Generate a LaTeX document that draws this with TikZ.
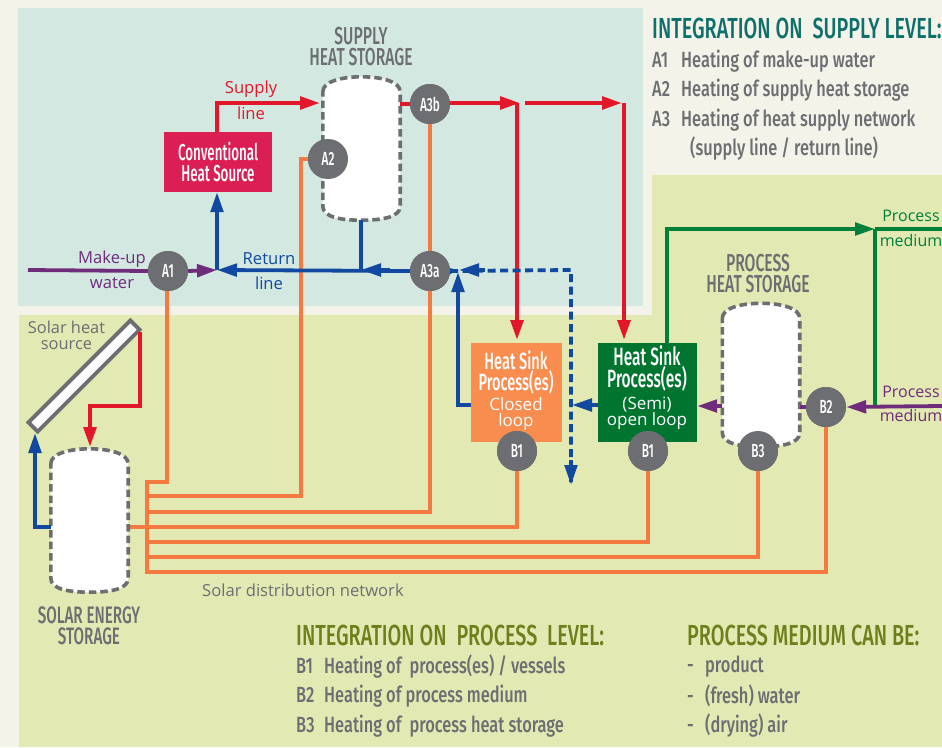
\documentclass[tikz,border=0pt]{standalone}
\usepackage{fontspec}
\usetikzlibrary{arrows.meta,calc}
\setmainfont{Open Sans}
\newfontfamily\condm[FakeStretch=0.62]{Fira Sans Medium}
\newfontfamily\condc[FakeStretch=0.58]{Fira Sans Medium}
\newfontfamily\condt[FakeStretch=0.64]{Fira Sans Medium}
\newfontfamily\condi[FakeStretch=0.745]{Fira Sans Medium}
\newfontfamily\condh[FakeStretch=0.683]{Fira Sans Medium}
\definecolor{pagebg}{HTML}{F3F3EA}
\definecolor{tealbg}{HTML}{D2E8E1}
\definecolor{greenbg}{HTML}{E2E9B3}
\definecolor{cgray}{HTML}{6D6E71}
\definecolor{cred}{HTML}{E3172A}
\definecolor{cblue}{HTML}{1249A0}
\definecolor{corange}{HTML}{F47A42}
\definecolor{cpurple}{HTML}{6F2C7B}
\definecolor{cgreen}{HTML}{00803A}
\definecolor{boxred}{HTML}{DB1F54}
\definecolor{boxorange}{HTML}{F98D4F}
\definecolor{boxgreen}{HTML}{00752F}
\definecolor{cteal}{HTML}{0F6F6A}
\definecolor{colive}{HTML}{6F7F1C}
\tikzset{
  tap/.style={circle,fill=cgray,minimum size=40pt,inner sep=0pt,text=white,font=\condm\fontsize{19}{19}\selectfont},
  redline/.style={draw=cred,line width=4.2pt},
  blueline/.style={draw=cblue,line width=3.8pt},
  orangeline/.style={draw=corange,line width=3.4pt},
  purpleline/.style={draw=cpurple,line width=3.8pt},
  greenline/.style={draw=cgreen,line width=3.8pt},
  tip/.style={-{Triangle[length=20pt,width=12.5pt]}},
  sink/.style={inner sep=0pt,align=center,text=white},
  title/.style={text=cgray,align=center,font=\condt\fontsize{24.5}{21}\selectfont},
  lab/.style={font=\fontsize{16.6}{17}\selectfont,align=center,inner sep=0pt},
  item/.style={anchor=west,inner sep=0pt,text=cgray,font=\condi\fontsize{22}{23}\selectfont},
  head/.style={anchor=west,inner sep=0pt,font=\condh\fontsize{29}{30}\selectfont},
  tankbody/.style={minimum width=77pt,minimum height=143pt,inner sep=0pt},
  tankline/.style={fill=white,draw=cgray,line width=3.6pt,dash pattern=on 7.5pt off 4pt},
}
\newcommand{\tankpath}[1]{%
  \path[tankline] ($(#1.north west)+(0,15)$)
    .. controls ($(#1.north west)+(0,5)$) and ($(#1.north west)+(18,0)$) .. (#1.north)
    .. controls ($(#1.north east)+(-18,0)$) and ($(#1.north east)+(0,5)$) .. ($(#1.north east)+(0,15)$)
    -- ($(#1.south east)+(0,-14)$)
    .. controls ($(#1.south east)+(0,-3)$) and ($(#1.south east)+(-18,0)$) .. (#1.south)
    .. controls ($(#1.south west)+(18,0)$) and ($(#1.south west)+(0,-3)$) .. ($(#1.south west)+(0,-14)$)
    -- cycle;}
\newcommand{\keyA}[1]{\makebox[29pt][l]{#1}}
\newcommand{\keyB}[1]{\makebox[28pt][l]{#1}}
\newcommand{\keyC}{\makebox[18pt][l]{-}}
\begin{document}
\begin{tikzpicture}[x=1pt,y=-1pt]
\useasboundingbox (0,0) rectangle (942,747);
\fill[pagebg] (0,0) rectangle (942,747);
\fill[tealbg] (18,8) rectangle (643,306);
\fill[greenbg] (19,315) -- (652,315) -- (652,175) -- (942,175) -- (942,747) -- (19,747) -- cycle;

% named anchors
\node[tankbody] (supplytank) at (361.5,148.5) {};
\node[tankbody] (processtank) at (761,375) {};
\node[tankbody] (solartank) at (89.5,520.5) {};
\node[fill=boxred,minimum width=108pt,minimum height=60pt,sink,font=\condc\fontsize{23}{21}\selectfont] (conv) at (218,162) {Conventional\\Heat Source};
\node[fill=boxorange,minimum width=91pt,minimum height=99pt] (sinkclosed) at (516.5,392.5) {};
\node[fill=boxgreen,minimum width=99pt,minimum height=99pt] (sinkopen) at (647.5,392.5) {};
\node[tap] (A1) at (168,271) {};
\node[tap] (A2) at (328,159) {};
\node[tap] (A3b) at (430,104) {};
\node[tap] (A3a) at (430,271) {};
\node[tap] (B1a) at (517,451) {};
\node[tap] (B1b) at (648,451) {};
\node[tap] (B3) at (758,451) {};
\node[tap] (B2) at (826,407) {};

% free ends and junctions
\coordinate (mkstart) at (28,270);
\coordinate (jmain) at (217,270);
\coordinate (jtank) at (361,270);
\coordinate (supL) at (217,103);
\coordinate (rA) at (520,103);
\coordinate (rAd) at (517,103);
\coordinate (rB) at (525,103);
\coordinate (rC) at (622,103);
\coordinate (rCd) at (624,103);
\coordinate (dashA) at (459,270);
\coordinate (dashC) at (571,270);
\coordinate (dashE) at (571,485);
\coordinate (cloop) at (458,405);
\coordinate (jgreen) at (875,229);
\coordinate (gC) at (667,229);
\coordinate (gR) at (942,229);
\coordinate (pR) at (942,406);
\coordinate (coll) at (140,332);
\coordinate (coll2) at (35,433);

% orange network
\draw[orangeline] (167,291) |- (147,482) -- (147,572) -| (B2.south);
\draw[orangeline] (147,496) -| (301,159) -- (A2.center);
\draw[orangeline] (147,512) -| (A3a.south);
\draw[orangeline] (solartank.east |- 0,527) -| (B1a.south);
\draw[orangeline] (147,542) -| (B1b.south);
\draw[orangeline] (147,557) -| (B3.south);
\draw[orangeline] (A3b.south) -- (A3a.north);

% tanks
\tankpath{supplytank}
\tankpath{processtank}
\tankpath{solartank}

% collector
\node[draw=cgray,fill=white,line width=3.8pt,minimum width=144pt,minimum height=13pt,inner sep=0pt,rotate=45] (collector) at (84,376) {};

% red
\draw[redline,tip] (conv.north -| supL) -- (supL) -- (320,103);
\draw[redline] (supplytank.east |- A3b) -- (A3b.west);
\draw[redline,tip] (A3b.east |- rA) -- (rA);
\draw[redline,tip] (rAd) -- (517,340);
\draw[redline,tip] (rB) -- (rC);
\draw[redline,tip] (rCd) -- (624,340);
\draw[redline,tip] (coll) |- (90,406) -- (90,447);

% blue
\draw[blueline,tip] (A3a.west) -- (jmain);
\draw[blueline] (supplytank.south -| jtank) -- (jtank);
\draw[blueline,tip] (390,270) -- (jtank);
\draw[blueline,tip] (jmain) -- (conv.south -| jmain);
\draw[blueline,tip] (sinkclosed.west |- cloop) -- (cloop) -- (458,272);
\draw[blueline,dash pattern=on 8pt off 4.5pt] (A3a.east) -- (dashC) -- (dashE);
\draw[blueline,tip] (A3a.east) -- (dashA);
\draw[blueline,tip] (485,270) -- (dashA);
\draw[blueline,tip] (571,460) -- (dashE);
\draw[blueline,tip] (sinkopen.west |- 0,405) -- (572,405);
\draw[blueline,tip] (solartank.west |- 0,527) -| (coll2);

% purple
\draw[purpleline] (mkstart) -- (A1.west);
\draw[purpleline,tip] (A1.east) -- (jmain);
\draw[purpleline,tip] (pR) -- (B2.east);
\draw[purpleline] (B2.west) -- (processtank.east |- B2);
\draw[purpleline,tip] (processtank.west |- 0,406) -- (sinkopen.east |- 0,406);

% green
\draw[greenline] (jgreen) -- (gR);
\draw[greenline,tip] (sinkopen.north -| gC) -- (gC) -- (jgreen);
\draw[greenline] (jgreen) -- (875,405);

% tapping points on top
\foreach \n/\t in {A1/A1,A2/A2,A3b/A3b,A3a/A3a,B1a/B1,B1b/B1,B3/B3,B2/B2}
  \node[tap] at (\n) {\t};

% box texts
\node[sink,font=\condm\fontsize{23.5}{21}\selectfont] at (516,372) {Heat Sink\\Process(es)};
\node[sink,font=\fontsize{17}{16}\selectfont] at (516,414) {Closed\\loop};
\node[sink,font=\condm\fontsize{25}{22}\selectfont] at (647,368) {Heat Sink\\Process(es)};
\node[sink,font=\fontsize{17}{16}\selectfont] at (647,413) {(Semi)\\open loop};

% titles
\node[title] at (361,46.5) {SUPPLY\\HEAT STORAGE};
\node[title] at (758,273.5) {PROCESS\\HEAT STORAGE};
\node[title,font=\condt\fontsize{23.8}{21}\selectfont] at (89,626) {SOLAR ENERGY\\STORAGE};

% labels
\node[lab,text=cred] at (251,89) {Supply};
\node[lab,text=cred] at (251,113) {line};
\node[lab,text=cpurple] at (112,259) {Make-up};
\node[lab,text=cpurple] at (112,283) {water};
\node[lab,text=cblue] at (269,259) {Return};
\node[lab,text=cblue] at (269,283) {line};
\node[lab,text=cgreen,font=\fontsize{16}{17}\selectfont] at (911,216) {Process};
\node[lab,text=cgreen,font=\fontsize{16}{17}\selectfont] at (911,240) {medium};
\node[lab,text=cpurple,font=\fontsize{16}{17}\selectfont] at (911,392) {Process};
\node[lab,text=cpurple,font=\fontsize{16}{17}\selectfont] at (911,415) {medium};
\node[lab,text=cgray,font=\fontsize{16.4}{16}\selectfont] at (66.5,335) {Solar heat\\source};
\node[lab,text=cgray,anchor=west] at (202,590) {Solar distribution network};

% legends
\node[head,text=cteal] at (652,28) {INTEGRATION ON\ \ SUPPLY LEVEL:};
\node[item] at (652,61) {\keyA{A1}Heating of make-up water};
\node[item] at (652,90) {\keyA{A2}Heating of supply heat storage};
\node[item] at (652,120) {\keyA{A3}Heating of heat supply network};
\node[item] at (690,149) {(supply line / return line)};
\node[head,text=colive] at (296,635) {INTEGRATION ON\ \ PROCESS\ \ LEVEL:};
\node[item] at (296,667) {\keyB{B1}Heating of\ \ process(es) / vessels};
\node[item] at (296,696) {\keyB{B2}Heating of process medium};
\node[item] at (296,726) {\keyB{B3}Heating of\ \ process heat storage};
\node[head,text=colive] at (687,635) {PROCESS MEDIUM CAN BE:};
\node[item] at (687,667) {\keyC product};
\node[item] at (687,696) {\keyC (fresh) water};
\node[item] at (687,726) {\keyC (drying) air};
\end{tikzpicture}
\end{document}
